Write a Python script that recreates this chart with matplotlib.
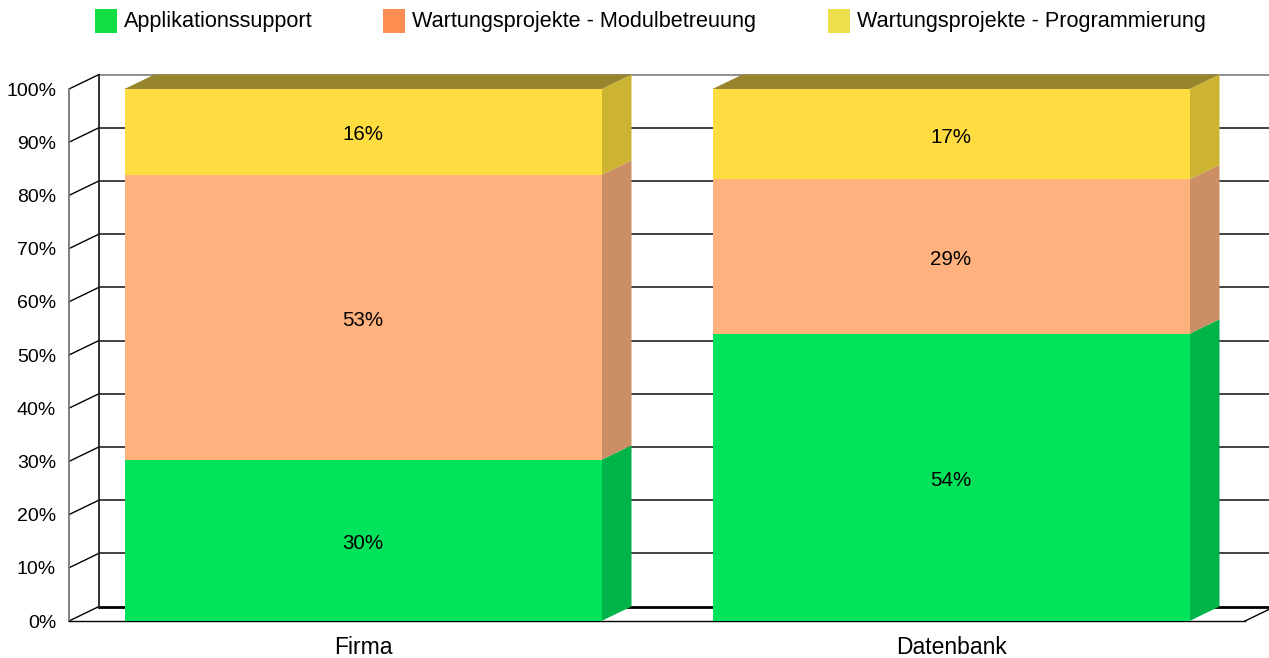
import matplotlib
matplotlib.use("Agg")
import matplotlib.pyplot as plt
from matplotlib.patches import Polygon, Rectangle
from matplotlib.transforms import offset_copy

plt.rcParams['font.family'] = ['Liberation Sans', 'DejaVu Sans']

categories = ["Firma", "Datenbank"]
series_names = ["Applikationssupport", "Wartungsprojekte - Modulbetreuung",
                "Wartungsprojekte - Programmierung"]
applikationssupport = [30, 54]
modulbetreuung = [53, 29]
programmierung = [16, 17]
yticks = [0, 10, 20, 30, 40, 50, 60, 70, 80, 90, 100]
ytick_labels = [f"{v}%" for v in yticks]

front_colors = ["#00E35A", "#FFB27D", "#FFDD40"]
side_colors = ["#00B44A", "#CC8E64", "#CCB432"]
top_color = "#97852E"
legend_colors = ["#11DD44", "#FF8C50", "#EEDD4C"]

W, H = 1269, 658
fig = plt.figure(figsize=(W / 100, H / 100), dpi=100)
ax = fig.add_axes([69 / W, 37 / H, 1176 / W, 532 / H])
ax.set_xlim(-0.5, 1.5)
ax.set_ylim(0, 100)
ax.axis("off")

down = offset_copy(ax.transData, fig=fig, x=0, y=-3, units="dots")
down2 = offset_copy(ax.transData, fig=fig, x=0, y=-2, units="dots")

dx = 30 / 588.0
dy = 14.5 / 5.32
bw = 477 / 588.0
x0, x1 = -0.5, 1.5

# back wall grid
for v in yticks:
    col = "#888888" if v == 100 else "#333333"
    lw = 1.3
    if v == 0:
        col, lw = "black", 2.0
    ax.plot([x0 + dx, x1 + dx], [v + dy, v + dy], color=col, lw=lw, clip_on=False, zorder=1)
    ax.plot([x0, x0 + dx], [v, v + dy], color="black", lw=1.0, clip_on=False, zorder=1)
ax.plot([x0 + dx, x0 + dx], [dy, 100 + dy], color="#222222", lw=1.3, clip_on=False, zorder=1)
ax.plot([x0, x0], [0, 100], color="#777777", lw=1.3, clip_on=False, zorder=1)
ax.plot([x0, x1], [0, 0], color="black", lw=1.0, clip_on=False, zorder=1)
ax.plot([x1, x1 + dx], [0, dy], color="black", lw=1.0, clip_on=False, zorder=1)

# bars
data = [applikationssupport, modulbetreuung, programmierung]
for i, cat in enumerate(categories):
    raw = [s[i] for s in data]
    tot = float(sum(raw))
    bottom = 0.0
    for k, r in enumerate(raw):
        h = r / tot * 100
        top = bottom + h
        xl, xr = i - bw / 2, i + bw / 2
        ax.add_patch(Rectangle((xl, bottom), bw, h, facecolor=front_colors[k],
                               edgecolor="none", zorder=3, clip_on=False))
        ax.add_patch(Polygon([(xr, bottom), (xr + dx, bottom + dy), (xr + dx, top + dy), (xr, top)],
                             closed=True, facecolor=side_colors[k], edgecolor="none",
                             zorder=2, clip_on=False))
        if k == len(raw) - 1:
            ax.add_patch(Polygon([(xl, top), (xl + dx, top + dy), (xr + dx, top + dy), (xr, top)],
                                 closed=True, facecolor=top_color, edgecolor="none",
                                 zorder=2, clip_on=False))
        ax.text(i, (bottom + top) / 2, f"{r}%", ha="center", va="center",
                fontsize=14.8, color="black", zorder=4, transform=down)
        bottom = top
    ax.text(i, -4.6, cat, ha="center", va="center", fontsize=16.5, color="black",
            transform=down2)

for v, lab in zip(yticks, ytick_labels):
    ax.text(x0 - 0.022, v, lab, ha="right", va="center", fontsize=14, color="black",
            transform=down2)

# legend
leg_x = [95, 383, 828]
for k, name in enumerate(series_names):
    fig.patches.append(Rectangle((leg_x[k] / W, (H - 33) / H), 22 / W, 24 / H,
                                 transform=fig.transFigure, facecolor=legend_colors[k],
                                 edgecolor="none"))
    fig.text((leg_x[k] + 29) / W, (H - 22) / H, name, ha="left", va="center",
             fontsize=15.6, color="black")

fig.savefig("out.png", dpi=100, facecolor="white")
